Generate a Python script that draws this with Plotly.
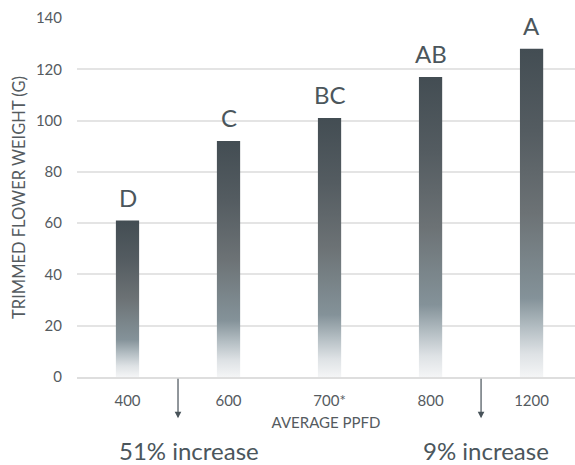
import plotly.graph_objects as go

# Trimmed flower weight by average PPFD
ppfd = ["400", "600", "700*", "800", "1200"]
weight = [61, 92, 101, 117, 128]
letters = ["D", "C", "BC", "AB", "A"]
y_ticks = [0, 20, 40, 60, 80, 100, 120, 140]

FONT = "Lato, 'Open Sans', sans-serif"
TEXT = "#4b565c"
TICK = "#555b5f"
BAR_W = 0.23

# vertical colour profile of each bar, bottom (0) to top (1)
bar_scale = [
    [0.00, "rgb(244,245,246)"],
    [0.07, "rgb(222,226,229)"],
    [0.15, "rgb(180,190,195)"],
    [0.24, "rgb(132,146,153)"],
    [0.35, "rgb(122,133,138)"],
    [0.50, "rgb(108,114,117)"],
    [0.75, "rgb(84,92,97)"],
    [1.00, "rgb(67,77,83)"],
]

fig = go.Figure()

# each bar as a filled rectangle with a vertical gradient from 0 to its value
for i, v in enumerate(weight):
    x0, x1 = i - BAR_W / 2, i + BAR_W / 2
    fig.add_trace(go.Scatter(
        x=[x0, x1, x1, x0, x0],
        y=[0, 0, v, v, 0],
        mode="lines",
        line=dict(width=0),
        fill="toself",
        fillgradient=dict(type="vertical", colorscale=bar_scale, start=0, stop=v),
        hoverinfo="skip",
        showlegend=False,
    ))

# significance letters above bars
for i, (v, lab) in enumerate(zip(weight, letters)):
    fig.add_annotation(
        x=i, y=v, xref="x", yref="y", text=lab, showarrow=False,
        yanchor="bottom", yshift=7,
        font=dict(family=FONT, size=24, color=TEXT),
    )

# arrows between treatment groups with percentage notes
for pos, note, note_x in [(0.5, "51% increase", 0.61), (3.5, "9% increase", 3.55)]:
    fig.add_annotation(
        x=pos, y=-0.115, xref="x", yref="paper", text="", showarrow=True,
        ax=0, ay=-41, arrowhead=2, arrowsize=1.1, arrowwidth=1.2,
        arrowcolor="#48535a",
    )
    fig.add_annotation(
        x=note_x, y=-0.205, xref="x", yref="paper", text=note, showarrow=False,
        yanchor="middle", xanchor="center",
        font=dict(family=FONT, size=24, color=TEXT),
    )

fig.update_layout(
    width=575, height=465,
    margin=dict(l=77, r=0, t=18, b=88),
    paper_bgcolor="white", plot_bgcolor="white",
    font=dict(family=FONT, color=TICK),
    xaxis=dict(
        range=[-0.5, 4.43],
        tickvals=list(range(len(ppfd))), ticktext=ppfd,
        showgrid=False, zeroline=False,
        showline=True, linecolor="#dedede", linewidth=2,
        ticks="", tickfont=dict(family=FONT, size=15, color=TICK),
        ticklabelstandoff=9,
        title=dict(text="AVERAGE PPFD", font=dict(family=FONT, size=15, color=TICK),
                   standoff=9),
        automargin=False,
    ),
    yaxis=dict(
        range=[0, 140], tickvals=y_ticks,
        showgrid=True, gridcolor="#e4e4e4", gridwidth=1.5,
        zeroline=False, showline=False, ticks="",
        tickfont=dict(family=FONT, size=15, color=TICK),
        ticklabelstandoff=14,
        title=dict(text="TRIMMED FLOWER WEIGHT (G)",
                   font=dict(family=FONT, size=16.5, color=TICK), standoff=6),
        automargin=False,
    ),
)

fig.write_html("out.html")
